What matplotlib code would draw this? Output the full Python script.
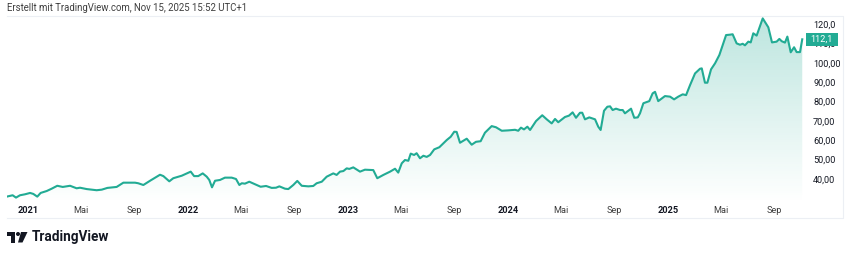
import matplotlib.pyplot as plt
import numpy as np
from matplotlib.patches import Rectangle, Polygon, Circle

# decimal-year positions and closing prices
years = [
    2020.867, 2020.904, 2020.925, 2020.950, 2020.981, 2021.013, 2021.033, 2021.058, 2021.079, 2021.117,
    2021.148, 2021.183, 2021.217, 2021.263, 2021.304, 2021.325, 2021.367, 2021.429, 2021.461, 2021.496,
    2021.554, 2021.596, 2021.669, 2021.689, 2021.721, 2021.763, 2021.825, 2021.846, 2021.883, 2021.908,
    2021.961, 2022.017, 2022.038, 2022.064, 2022.092, 2022.117, 2022.133, 2022.150, 2022.169, 2022.200,
    2022.231, 2022.273, 2022.300, 2022.321, 2022.336, 2022.356, 2022.383, 2022.419, 2022.454, 2022.488,
    2022.523, 2022.550, 2022.571, 2022.606, 2022.627, 2022.658, 2022.683, 2022.711, 2022.752, 2022.783,
    2022.804, 2022.836, 2022.867, 2022.908, 2022.929, 2022.950, 2022.971, 2022.992, 2023.008, 2023.033,
    2023.075, 2023.106, 2023.158, 2023.183, 2023.221, 2023.263, 2023.294, 2023.314, 2023.336, 2023.356,
    2023.377, 2023.392, 2023.413, 2023.429, 2023.450, 2023.471, 2023.492, 2023.513, 2023.539, 2023.571,
    2023.617, 2023.642, 2023.664, 2023.679, 2023.700, 2023.742, 2023.773, 2023.800, 2023.829, 2023.856,
    2023.898, 2023.925, 2023.961, 2024.002, 2024.044, 2024.064, 2024.081, 2024.100, 2024.121, 2024.138,
    2024.175, 2024.214, 2024.242, 2024.273, 2024.294, 2024.314, 2024.356, 2024.381, 2024.404, 2024.425,
    2024.450, 2024.464, 2024.481, 2024.508, 2024.544, 2024.564, 2024.579, 2024.600, 2024.621, 2024.638,
    2024.654, 2024.675, 2024.700, 2024.717, 2024.731, 2024.769, 2024.789, 2024.811, 2024.825, 2024.846,
    2024.883, 2024.904, 2024.919, 2024.939, 2024.981, 2025.013, 2025.038, 2025.064, 2025.092, 2025.113,
    2025.138, 2025.169, 2025.200, 2025.211, 2025.231, 2025.246, 2025.269, 2025.294, 2025.321, 2025.363,
    2025.388, 2025.404, 2025.429, 2025.450, 2025.467, 2025.481, 2025.502, 2025.517, 2025.533, 2025.554,
    2025.592, 2025.627, 2025.650, 2025.679, 2025.696, 2025.711, 2025.731, 2025.746, 2025.767, 2025.788,
    2025.804, 2025.825, 2025.839,
]
prices = [
    30.9, 31.6, 30.4, 31.6, 32.1, 32.8, 32.3, 30.9, 32.8, 33.8,
    35.0, 36.5, 35.9, 36.5, 35.2, 35.5, 34.8, 34.2, 34.5, 35.4,
    35.9, 38.1, 38.1, 37.8, 36.9, 39.1, 42.2, 41.5, 38.8, 40.4,
    41.7, 43.8, 41.5, 41.5, 42.9, 41.2, 39.5, 35.7, 39.1, 39.5,
    40.7, 40.7, 40.0, 36.9, 37.8, 37.6, 38.6, 37.3, 36.0, 36.4,
    35.4, 35.5, 36.2, 35.0, 34.8, 36.9, 39.0, 36.5, 36.2, 36.4,
    37.8, 38.6, 41.2, 42.9, 42.1, 43.8, 44.1, 45.5, 45.2, 46.0,
    43.8, 44.8, 44.6, 40.4, 42.1, 43.8, 45.3, 43.3, 48.1, 49.8,
    49.4, 53.1, 52.4, 53.3, 50.7, 52.0, 51.4, 52.4, 55.3, 56.4,
    60.1, 61.8, 64.4, 64.3, 58.7, 60.8, 57.7, 59.2, 59.5, 63.9,
    67.3, 66.7, 64.9, 65.1, 65.4, 64.9, 66.5, 65.6, 67.0, 65.3,
    69.9, 72.9, 70.8, 68.7, 71.0, 69.3, 72.0, 72.7, 74.4, 71.6,
    74.2, 74.2, 70.8, 71.8, 70.8, 67.0, 65.3, 75.2, 77.3, 77.5,
    75.6, 76.3, 75.6, 75.6, 73.9, 76.3, 71.6, 71.8, 73.9, 79.1,
    80.2, 84.2, 85.0, 80.2, 82.8, 82.5, 81.1, 82.5, 83.7, 83.3,
    88.5, 94.5, 96.9, 97.1, 89.7, 89.7, 96.6, 99.7, 104.0, 114.3,
    114.5, 114.7, 110.0, 109.3, 109.8, 109.0, 110.9, 110.5, 115.2, 114.0,
    122.9, 118.3, 110.5, 110.9, 112.3, 111.1, 110.4, 113.5, 105.4, 108.0,
    105.5, 105.5, 112.1,
]

y_ticks = [40, 50, 60, 70, 80, 90, 100, 110, 120]
y_tick_labels = ["40,00", "50,00", "60,00", "70,00", "80,00", "90,00", "100,00", "110,0", "120,0"]
x_tick_pos = [2021.0, 2021.329, 2021.666, 2022.0, 2022.329, 2022.666, 2023.0, 2023.329, 2023.666,
              2024.0, 2024.329, 2024.666, 2025.0, 2025.329, 2025.666]
x_tick_labels = ["2021", "Mai", "Sep", "2022", "Mai", "Sep", "2023", "Mai", "Sep",
                 "2024", "Mai", "Sep", "2025", "Mai", "Sep"]
last_label = "112,1"

GREEN = "#22ab94"
TEXT = "#131722"
W, H = 850, 256

plt.rcParams["font.family"] = ["Roboto", "DejaVu Sans"]

fig = plt.figure(figsize=(W / 100, H / 100), dpi=100)
fig.patch.set_facecolor("white")

# main pane, pixel box x 7..804, y 15..203
ax = fig.add_axes([7 / W, 1 - 203 / H, 797 / W, 188 / H])
ax.set_xlim(2020.86875, 2025.85)
ax.set_ylim(27.61, 124.65)

x = np.array(years)
y = np.array(prices)
ax.plot(x, y, color=GREEN, lw=1.5, solid_joinstyle="round", zorder=3)

# gradient fill under the line
ymin, ymax = ax.get_ylim()
grad = np.linspace(0.30, 0.0, 256).reshape(-1, 1)
rgba = np.zeros((256, 1, 4))
rgba[..., 0], rgba[..., 1], rgba[..., 2] = 34 / 255, 171 / 255, 148 / 255
rgba[..., 3] = grad
img = ax.imshow(rgba, aspect="auto", extent=[x[0], x[-1], ymin, max(y)],
                origin="upper", zorder=1)
clip = Polygon(np.vstack([[x[0], ymin], np.column_stack([x, y]), [x[-1], ymin]]),
               closed=True, transform=ax.transData, facecolor="none", edgecolor="none")
ax.add_patch(clip)
img.set_clip_path(clip)

for s in ax.spines.values():
    s.set_visible(False)
ax.yaxis.tick_right()
ax.set_yticks(y_ticks)
ax.set_yticklabels(y_tick_labels)
ax.tick_params(axis="y", length=0, pad=6.5, labelsize=6.6, labelcolor=TEXT)
ax.set_xticks(x_tick_pos)
ax.set_xticklabels(x_tick_labels)
ax.tick_params(axis="x", length=0, pad=2.5, labelsize=6.6, labelcolor="#3d3d3d")
for lbl in ax.get_xticklabels():
    if lbl.get_text().isdigit():
        lbl.set_fontweight("bold")
        lbl.set_color(TEXT)
ax.set_facecolor("none")

# last value badge (covers most of the 110 label, as in the original)
ax.add_patch(Rectangle((1.0025, y[-1] - 3.3), 0.04, 6.6, transform=ax.get_yaxis_transform(),
                       facecolor=GREEN, edgecolor="none", clip_on=False, zorder=5))
ax.text(1.0225, y[-1], last_label, transform=ax.get_yaxis_transform(), ha="center", va="center",
        color="white", fontsize=6.6, zorder=6)

# overlay for decorations in pixel coordinates
ov = fig.add_axes([0, 0, 1, 1], zorder=-1)
ov.set_xlim(0, W)
ov.set_ylim(H, 0)
ov.axis("off")
ov.plot([7, 843, 843, 7], [16, 16, 218, 218], color="#eceff4", lw=0.8)

fig.text(7 / W, 1 - 8 / H, "Erstellt mit TradingView.com, Nov 15, 2025 15:52 UTC+1",
         ha="left", va="center", fontsize=6.9, color="#3f3f3f")

# TradingView logo
ov.add_patch(Rectangle((7, 232), 8, 3.5, color=TEXT, lw=0))
ov.add_patch(Rectangle((10.8, 232), 4.2, 10.5, color=TEXT, lw=0))
ov.add_patch(Circle((18, 234), 2.0, color=TEXT, lw=0))
ov.add_patch(Polygon([[21, 232], [27.5, 232], [22.5, 242.5], [18, 242.5]], closed=True,
                     color=TEXT, lw=0))
fig.text(32 / W, 1 - 237 / H, "TradingView", ha="left", va="center",
         fontsize=9.8, fontweight="bold", color=TEXT)

fig.savefig("out.png", dpi=100)
